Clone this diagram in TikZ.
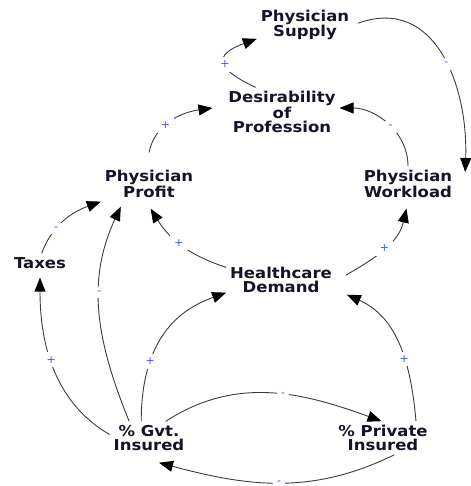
\documentclass[tikz,border=0pt]{standalone}
\usepackage{fontspec}
\usepackage{tikz}
\usetikzlibrary{arrows.meta}
\newfontfamily\varfont{DejaVu Sans}[FakeStretch=1.1]
\newfontfamily\polfont{DejaVu Sans}
\definecolor{varink}{RGB}{20,20,40}
\definecolor{linkgray}{RGB}{60,60,60}
\definecolor{polblue}{RGB}{60,90,255}

\begin{document}
\begin{tikzpicture}[x=1pt,y=1pt,
    var/.style={font=\varfont\bfseries\fontsize{15}{14}\selectfont, text=varink, align=center, inner sep=1pt, outer sep=3pt},
    link/.style={draw=linkgray, line width=0.9pt, -{Triangle[length=14pt,width=11pt,color=black]}},
    pol/.style={font=\polfont\fontsize{11}{11}\selectfont, text=polblue, fill=white, inner sep=4pt}]
  \useasboundingbox (0,0) rectangle (470,-486);
  % variables
  \node[var] (supply)   at (305,-25)  {Physician\\Supply};
  \node[var] (desir)    at (282,-112) {Desirability\\of\\Profession};
  \node[var] (profit)   at (149,-184) {Physician\\Profit};
  \node[var] (workload) at (408,-184) {Physician\\Workload};
  \node[var] (taxes)    at (40,-263)  {Taxes};
  \node[var] (demand)   at (281,-280) {Healthcare\\Demand};
  \node[var] (gvt)      at (149,-438) {\% Gvt.\\Insured};
  \node[var] (priv)     at (383,-438) {\% Private\\Insured};
  % upper loop
  \draw[link] (desir.137) to[out=155,in=200,looseness=2.4] node[pol,pos=0.45]{+} (supply.196);
  \draw[link,shorten <=5pt] (supply.east) to[out=20,in=88,looseness=1.2] node[pol,pos=0.55]{-} ([xshift=9pt]workload.14);
  \draw[link] (workload.north) to[out=90,in=0] node[pol,pos=0.45]{-} (desir.4);
  \draw[link] ([yshift=14pt]profit.north) to[out=78,in=188] node[pol,pos=0.4]{+} ([xshift=-12pt]desir.176);
  % demand
  \draw[link] (demand.167) to[out=162,in=-58] node[pol,pos=0.55]{+} ([yshift=-7pt]profit.-85);
  \draw[link] ([xshift=10pt]demand.5) to[out=30,in=-103] node[pol,pos=0.5]{+} ([yshift=-7pt]workload.-95);
  % taxes
  \draw[link] (taxes.80) to[out=70,in=200] node[pol,pos=0.35]{-} (profit.south west);
  \draw[link] (gvt.175) to[out=150,in=-90,out looseness=0.8,in looseness=1.2] node[pol,pos=0.6]{+} ([yshift=-5pt]taxes.south);
  % insured
  \draw[link] (gvt.140) to[out=112,in=245] node[pol,pos=0.6]{-} ([yshift=-5pt]profit.212);
  \draw[link] (gvt.115) to[out=90,in=200,out looseness=1.5,in looseness=0.7] node[pol,pos=0.27]{+} (demand.193);
  \draw[link] (priv.27) to[out=95,in=-24] node[pol,pos=0.4]{+} ([xshift=11pt]demand.-15);
  \draw[link] (gvt.45) to[out=33,in=160] node[pol,pos=0.56]{-} (priv.95);
  \draw[link] (priv.-56) to[out=206,in=-15] node[pol,pos=0.5]{-} ([yshift=-8pt]gvt.-59);
\end{tikzpicture}
\end{document}
